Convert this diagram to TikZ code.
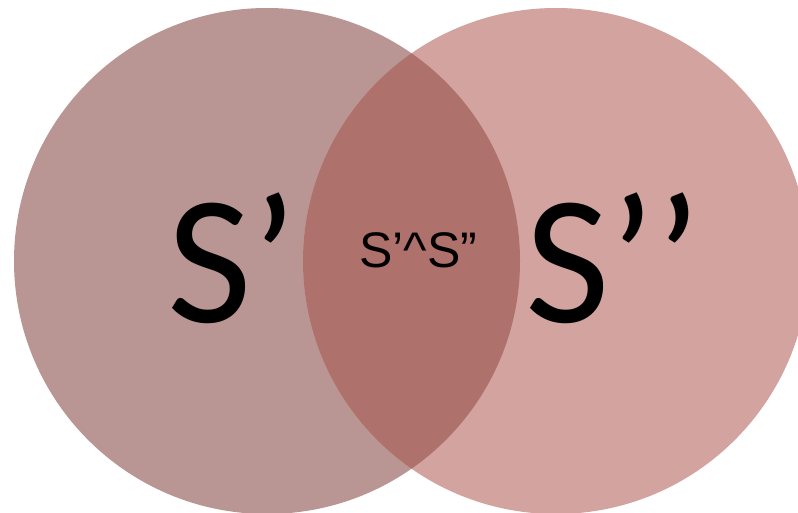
\documentclass[tikz,border=0pt]{standalone}
\usepackage{fontspec}
\setmainfont{Carlito}
\newfontfamily\arialfont{Liberation Sans}
\definecolor{leftc}{HTML}{B99694}
\definecolor{rightc}{HTML}{D2A39F}
\definecolor{midc}{HTML}{AF716C}
\begin{document}
\begin{tikzpicture}[x=1pt,y=-1pt,
  bigtext/.style={font=\fontsize{184}{184}\selectfont, inner sep=0pt, anchor=base west},
  smalltext/.style={font=\arialfont\fontsize{50}{50}\selectfont, inner sep=0pt, anchor=base west}]
\useasboundingbox (0,0) rectangle (798,513);
\clip (0,0) rectangle (798,513);
\fill[leftc] (267,261) circle (253);
\fill[rightc] (556,261) circle (253);
\begin{scope}
\clip (267,261) circle (253);
\fill[midc] (556,261) circle (253);
\end{scope}
\node[bigtext] (sl) at (167.5,322) {S’};
\node[bigtext] (sr) at (525.5,322) {S’’};
\node[smalltext] (sm) at (359,267) {S’\^{}S”};
\end{tikzpicture}
\end{document}
